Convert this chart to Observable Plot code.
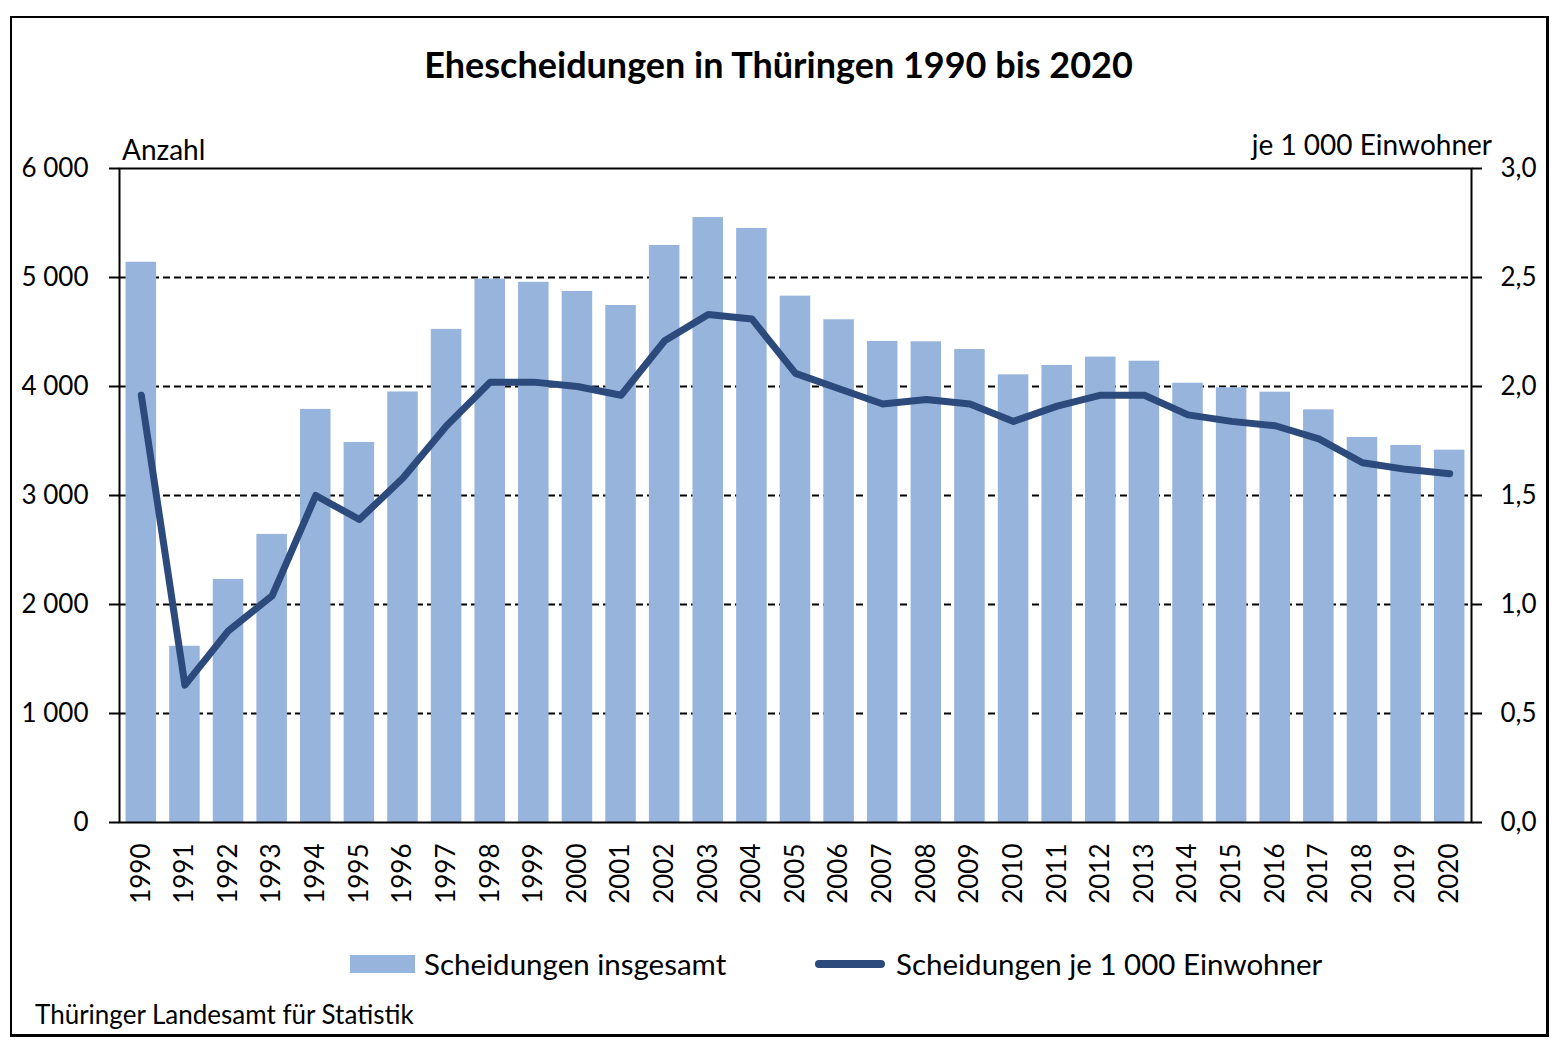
<!DOCTYPE html>
<html>
<head>
<meta charset="utf-8">
<script src="https://cdn.jsdelivr.net/npm/d3@7"></script>
<script src="https://cdn.jsdelivr.net/npm/@observablehq/plot@0.6"></script>
<style>
  html, body { margin: 0; padding: 0; background: #fff; }
  body { width: 1563px; height: 1055px; position: relative; font-family: Lato, "Noto Sans", sans-serif; color: #000; }
  #frame { position: absolute; left: 10px; top: 16px; width: 1539px; height: 1021px; box-sizing: border-box; border: 2px solid #000; border-bottom-width: 3px; border-right-width: 3px; }
  .abs { position: absolute; white-space: nowrap; line-height: 1; }
  #title { left: 0; width: 1557px; top: 46px; text-align: center; font-weight: bold; font-size: 36px; }
  #chart { position: absolute; left: 12px; top: 118px; }
  .lab { font-size: 28px; }
  .leg { font-size: 29.5px; }
</style>
</head>
<body>
<div id="frame"></div>
<div id="title" class="abs">Ehescheidungen in Thüringen 1990 bis 2020</div>
<div class="abs lab" style="left:122px; top:135px;">Anzahl</div>
<div class="abs lab" style="right:71px; top:130px;">je 1 000 Einwohner</div>
<div id="chart"></div>
<div class="abs" style="left:350px; top:955px; width:65px; height:18px; background:#97b4dd;"></div>
<div class="abs leg" style="left:424px; top:949px;">Scheidungen insgesamt</div>
<div class="abs" style="left:815px; top:960px; width:70px; height:8px; border-radius:4px; background:#2c4a7c;"></div>
<div class="abs leg" style="left:896px; top:949px;">Scheidungen je 1 000 Einwohner</div>
<div class="abs" style="left:35px; top:1001px; font-size:26px;">Thüringer Landesamt für Statistik</div>
<script>
const years = [1990,1991,1992,1993,1994,1995,1996,1997,1998,1999,2000,2001,2002,2003,2004,2005,2006,2007,2008,2009,2010,2011,2012,2013,2014,2015,2016,2017,2018,2019,2020];
const scheidungen = [5140,1617,2230,2643,3790,3486,3950,4524,4985,4956,4872,4743,5294,5550,5450,4829,4612,4413,4410,4339,4107,4193,4270,4232,4030,3988,3948,3786,3532,3459,3416];
const jeTausend = [1.96,0.63,0.88,1.04,1.50,1.39,1.58,1.82,2.02,2.02,2.00,1.96,2.21,2.33,2.31,2.06,1.99,1.92,1.94,1.92,1.84,1.91,1.96,1.96,1.87,1.84,1.82,1.76,1.65,1.62,1.60];
const countTicks = [0,1000,2000,3000,4000,5000,6000];
const gridTicks = [1000,2000,3000,4000,5000];
const rateTicks = [0,0.5,1.0,1.5,2.0,2.5,3.0];
const COUNT_MAX = 6000, RATE_MAX = 3.0;
const factor = COUNT_MAX / RATE_MAX;

const locale = d3.formatLocale({decimal: ",", thousands: "\u2009", grouping: [3], currency: ["", "€"]});
const fmtCount = d => locale.format(",")(d).replace("\u2009", " ");
const fmtRate = locale.format(".1f");

const data = years.map((y, i) => ({year: String(y), n: scheidungen[i], r: jeTausend[i], ry: jeTausend[i] * factor}));

const chart = Plot.plot({
  width: 1535,
  height: 812,
  marginLeft: 107,
  marginRight: 76,
  marginTop: 50,
  marginBottom: 108,
  style: {fontFamily: "Lato, 'Noto Sans', sans-serif", fontSize: "26px", color: "#000", background: "transparent"},
  x: {type: "band", domain: years.map(String), paddingInner: 0.3, paddingOuter: 0.15, round: false},
  y: {domain: [0, COUNT_MAX]},
  marks: [
    Plot.ruleY(gridTicks, {stroke: "#000", strokeWidth: 2, strokeDasharray: "7,4"}),
    Plot.barY(data, {x: "year", y: "n", fill: "#97b4dd"}),
    Plot.line(data, {x: "year", y: "ry", stroke: "#2c4a7c", strokeWidth: 7, strokeLinecap: "round", strokeLinejoin: "round"}),
    Plot.frame({stroke: "#000", strokeWidth: 2}),
    Plot.axisY({anchor: "left", ticks: countTicks, tickFormat: fmtCount, tickSize: 10, tickPadding: 21, label: null, strokeWidth: 2, fontSize: 26}),
    Plot.axisY({anchor: "right", ticks: rateTicks.map(r => r * factor), tickFormat: d => fmtRate(d / factor), tickSize: 10, tickPadding: 19, label: null, strokeWidth: 2, fontSize: 26}),
    Plot.axisX({anchor: "bottom", tickSize: 0, tickPadding: 21, tickRotate: -90, label: null, fontSize: 26})
  ]
});
document.getElementById("chart").appendChild(chart);
</script>
</body>
</html>
